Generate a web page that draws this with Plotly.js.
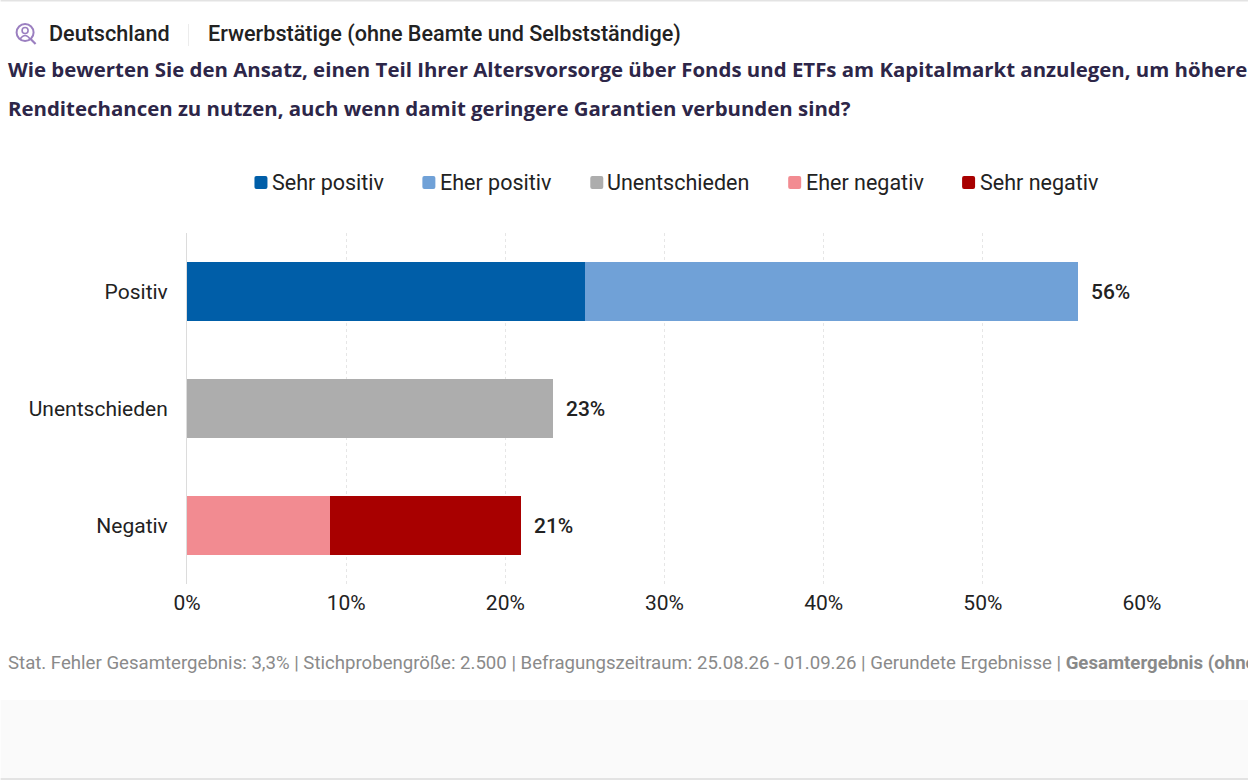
<!DOCTYPE html>
<html><head><meta charset="utf-8">
<script src="https://cdn.plot.ly/plotly-3.0.1.min.js"></script>
<style>html,body{margin:0;padding:0;background:#fff;overflow:hidden}#c{width:1248px;height:780px}</style>
</head><body><div id="c"></div>
<script>
const categories = ['Positiv','Unentschieden','Negativ'];
const seriesNames = ['Sehr positiv','Eher positiv','Unentschieden','Eher negativ','Sehr negativ'];
const sehrPositiv = [25,null,null];
const eherPositiv = [31,null,null];
const unentschieden = [null,23,null];
const eherNegativ = [null,null,9];
const sehrNegativ = [null,null,12];
const totals = [56,23,21];
const colors = ['#005EA8','#70A1D7','#ADADAD','#F28B91','#A80000'];
const xTicks = [0,10,20,30,40,50,60];
const xTickLabels = ['0%','10%','20%','30%','40%','50%','60%'];
const header1 = 'Deutschland';
const header2 = 'Erwerbstätige (ohne Beamte und Selbstständige)';
const question1 = 'Wie bewerten Sie den Ansatz, einen Teil Ihrer Altersvorsorge über Fonds und ETFs am Kapitalmarkt anzulegen, um höhere';
const question2 = 'Renditechancen zu nutzen, auch wenn damit geringere Garantien verbunden sind?';
const footer = 'Stat. Fehler Gesamtergebnis: 3,3% | Stichprobengröße: 2.500 | Befragungszeitraum: 25.08.26 - 01.09.26 | Gerundete Ergebnisse | <b>Gesamtergebnis (ohne</b>';
const legendSwatchX = [254,422,590,788,962];
const legendTextX = [271,439,606,805,979];

const L=186.5,R=1142,T=233,B=584;
const px=x=>(x-L)/(R-L), py=y=>(B-y)/(B-T);
const vals=[sehrPositiv,eherPositiv,unentschieden,eherNegativ,sehrNegativ];
const traces=vals.map((v,i)=>({type:'bar',orientation:'h',name:seriesNames[i],y:categories,x:v,width:0.5,
  marker:{color:colors[i],line:{width:0}},hoverinfo:'x+name'}));
const roboto='Roboto, sans-serif';
const ann=(x,y,text,size,color,extra)=>Object.assign({xref:'paper',yref:'paper',x:px(x),y:py(y),text,showarrow:false,
  xanchor:'left',yanchor:'middle',borderpad:0,align:'left',font:{family:roboto,size,color}},extra||{});
const annotations=[
  ann(47,34,header1,21.6,'#222',{font:{family:roboto,size:21.6,color:'#222',weight:500}}),
  ann(207,34,header2,21.6,'#222',{font:{family:roboto,size:21.6,color:'#222',weight:500}}),
  ann(6,69,question1,20.42,'#2D2648',{font:{family:'"Open Sans",sans-serif',size:20.42,color:'#2D2648',weight:700}}),
  ann(6,108,question2,20.42,'#2D2648',{font:{family:'"Open Sans",sans-serif',size:20.42,color:'#2D2648',weight:700}}),
  ann(6,663,footer,18.63,'#8a8a8a'),
];
seriesNames.forEach((n,i)=>annotations.push(ann(legendTextX[i],182,n,21.5,'#222')));
categories.forEach((c,i)=>annotations.push({x:totals[i],y:c,xref:'x',yref:'y',text:totals[i]+'%',showarrow:false,
  xanchor:'left',yanchor:'middle',xshift:11,yshift:-0.5,font:{family:roboto,size:21,color:'#222',weight:500}}));
const rr=(x,y,w,h,r)=>{const X=a=>px(a),Y=a=>py(a);
  return `M${X(x+r)},${Y(y)}L${X(x+w-r)},${Y(y)}Q${X(x+w)},${Y(y)} ${X(x+w)},${Y(y+r)}L${X(x+w)},${Y(y+h-r)}Q${X(x+w)},${Y(y+h)} ${X(x+w-r)},${Y(y+h)}L${X(x+r)},${Y(y+h)}Q${X(x)},${Y(y+h)} ${X(x)},${Y(y+h-r)}L${X(x)},${Y(y+r)}Q${X(x)},${Y(y)} ${X(x+r)},${Y(y)}Z`;};
const rect=(x0,y0,x1,y1,c)=>({type:'rect',xref:'paper',yref:'paper',x0:px(x0),x1:px(x1),y0:py(y0),y1:py(y1),fillcolor:c,line:{width:0},layer:'below'});
const circ=(x0,y0,x1,y1,lc,w)=>({type:'circle',xref:'paper',yref:'paper',x0:px(x0),x1:px(x1),y0:py(y0),y1:py(y1),line:{color:lc,width:w}});
const shapes=[
  rect(0,0,1248,1.5,'#e3e3e3'),
  rect(0,700,1248,778,'#fafafa'),
  rect(0,778,1248,780,'#e3e3e3'),
  rect(187.5,24,188.5,46,'#ececec'),
  circ(16,24,33,41,'#9B7FC0',2),
  circ(21.5,27.5,27.5,33.5,'#9B7FC0',1.6),
  {type:'path',xref:'paper',yref:'paper',path:`M${px(19.5)},${py(39)}Q${px(24.5)},${py(32)} ${px(29.5)},${py(39)}`,line:{color:'#9B7FC0',width:1.6}},
  {type:'path',xref:'paper',yref:'paper',path:`M${px(30)},${py(39)}L${px(35)},${py(44)}`,line:{color:'#9B7FC0',width:2.2}},
];
legendSwatchX.forEach((x,i)=>shapes.push({type:'path',xref:'paper',yref:'paper',path:rr(x,176,13,13,2),fillcolor:colors[i],line:{width:0}}));
Plotly.newPlot('c',traces,{
  width:1248,height:780,barmode:'stack',showlegend:false,
  margin:{l:L,r:1248-R,t:T,b:780-B,pad:0},
  paper_bgcolor:'#fff',plot_bgcolor:'#fff',
  font:{family:roboto,size:21,color:'#222'},
  xaxis:{range:[0,60],tickmode:'array',tickvals:xTicks,ticktext:xTickLabels,showgrid:true,gridcolor:'#e6e6e6',griddash:'dot',gridwidth:1,
    zeroline:false,showline:false,ticks:'',ticklabelstandoff:4,tickfont:{family:roboto,size:21,color:'#222'}},
  yaxis:{autorange:'reversed',type:'category',categoryorder:'array',categoryarray:categories,showgrid:false,zeroline:false,
    showline:true,linecolor:'#dcdcdc',linewidth:1,ticks:'',ticklabelstandoff:14,tickfont:{family:roboto,size:21,color:'#222'}},
  annotations,shapes
},{displayModeBar:false,staticPlot:true});
</script></body></html>
